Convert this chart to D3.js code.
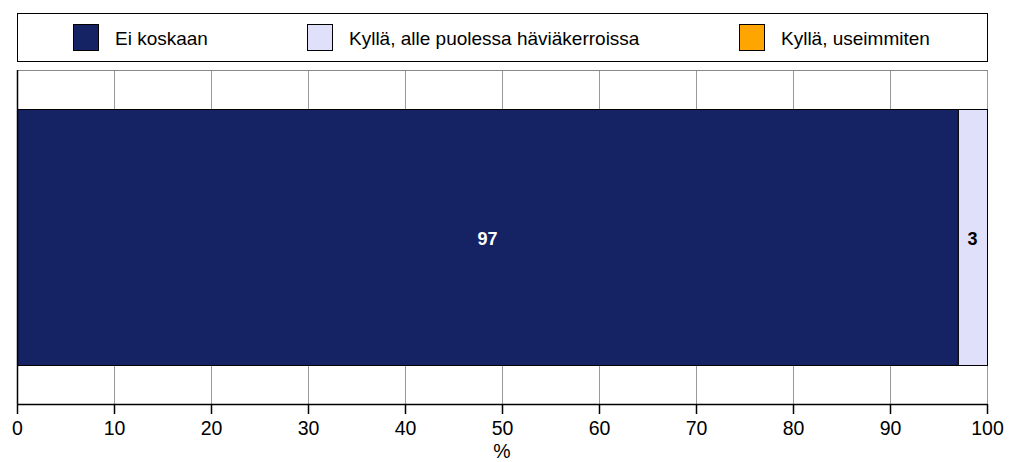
<!DOCTYPE html>
<html><head><meta charset="utf-8">
<script src="https://cdn.jsdelivr.net/npm/d3@7"></script>
<style>body{margin:0;background:#fff;}svg{display:block;font-family:"Liberation Sans",Arial,sans-serif;}</style>
</head><body>
<svg id="c" width="1011" height="462"></svg>
<script>
const seriesNames = ["Ei koskaan", "Kyllä, alle puolessa häviäkerroissa", "Kyllä, useimmiten"];
const seriesValues = [97, 3, 0];
const seriesColors = ["#152263", "#E0E0FA", "#FFA500"];
const xTicks = [0,10,20,30,40,50,60,70,80,90,100];
const xTitle = "%";

const svg = d3.select("#c");
const L = 17, R = 987, T = 70, B = 404;
const x = d3.scaleLinear().domain([0,100]).range([L,R]);
const y = d3.scaleBand().domain(["row"]).range([T,B]).paddingInner(0).paddingOuter(0.152);

// legend box
svg.append("rect").attr("x",17.5).attr("y",13.5).attr("width",970).attr("height",48)
  .attr("fill","#fff").attr("stroke","#000").attr("stroke-width",1);
const legX = [73, 307, 739];
seriesNames.forEach((n,i)=>{
  svg.append("rect").attr("x",legX[i]+0.5).attr("y",24.5).attr("width",25).attr("height",26)
    .attr("fill",seriesColors[i]).attr("stroke","#000").attr("stroke-width",1);
  svg.append("text").attr("x",legX[i]+42).attr("y",45).attr("font-size",19).attr("fill","#000").text(n);
});

// gridlines
svg.append("g").selectAll("line").data(xTicks.slice(1)).join("line")
  .attr("x1",d=>Math.round(x(d))+0.5).attr("x2",d=>Math.round(x(d))+0.5)
  .attr("y1",T).attr("y2",B).attr("stroke","#999").attr("stroke-width",1);
// top border
svg.append("line").attr("x1",L).attr("x2",R+0.5).attr("y1",T+0.5).attr("y2",T+0.5).attr("stroke","#888");

// bars
let cum = 0;
const segs = seriesValues.map((v,i)=>{const s={v,i,x0:cum,x1:cum+v};cum+=v;return s;});
const by = y("row"), bh = y.bandwidth();
svg.append("g").selectAll("rect").data(segs.filter(d=>d.v>0)).join("rect")
  .attr("x",d=>x(d.x0)+0.5).attr("y",Math.round(by)+0.5)
  .attr("width",d=>x(d.x1)-x(d.x0)).attr("height",Math.round(bh))
  .attr("fill",d=>seriesColors[d.i]).attr("stroke","#000").attr("stroke-width",1);
svg.append("g").selectAll("text").data(segs.filter(d=>d.v>0)).join("text")
  .attr("x",d=>(x(d.x0)+x(d.x1))/2).attr("y",by+bh/2+8)
  .attr("text-anchor","middle").attr("font-size",18).attr("font-weight","bold")
  .attr("fill",d=>d.i===0?"#fff":"#000").text(d=>d.v);

// y axis line (left)
svg.append("line").attr("x1",L+0.5).attr("x2",L+0.5).attr("y1",T).attr("y2",B).attr("stroke","#000").attr("stroke-width",1.5);

// x axis
const ax = svg.append("g").attr("transform",`translate(0,${B})`)
  .call(d3.axisBottom(x).tickValues(xTicks).tickSize(10).tickSizeOuter(0).tickFormat(d3.format("d")));
ax.select(".domain").attr("stroke","#000").attr("stroke-width",1.5);
ax.selectAll(".tick line").attr("stroke","#000").attr("stroke-width",1.5);
ax.selectAll(".tick text").attr("font-size",19.5).attr("font-family","Liberation Sans, Arial, sans-serif").attr("fill","#000").attr("y",31).attr("dy",null);
svg.append("text").attr("x",(L+R)/2).attr("y",458).attr("text-anchor","middle").attr("font-size",19.5).attr("fill","#000").text(xTitle);
</script>
</body></html>
